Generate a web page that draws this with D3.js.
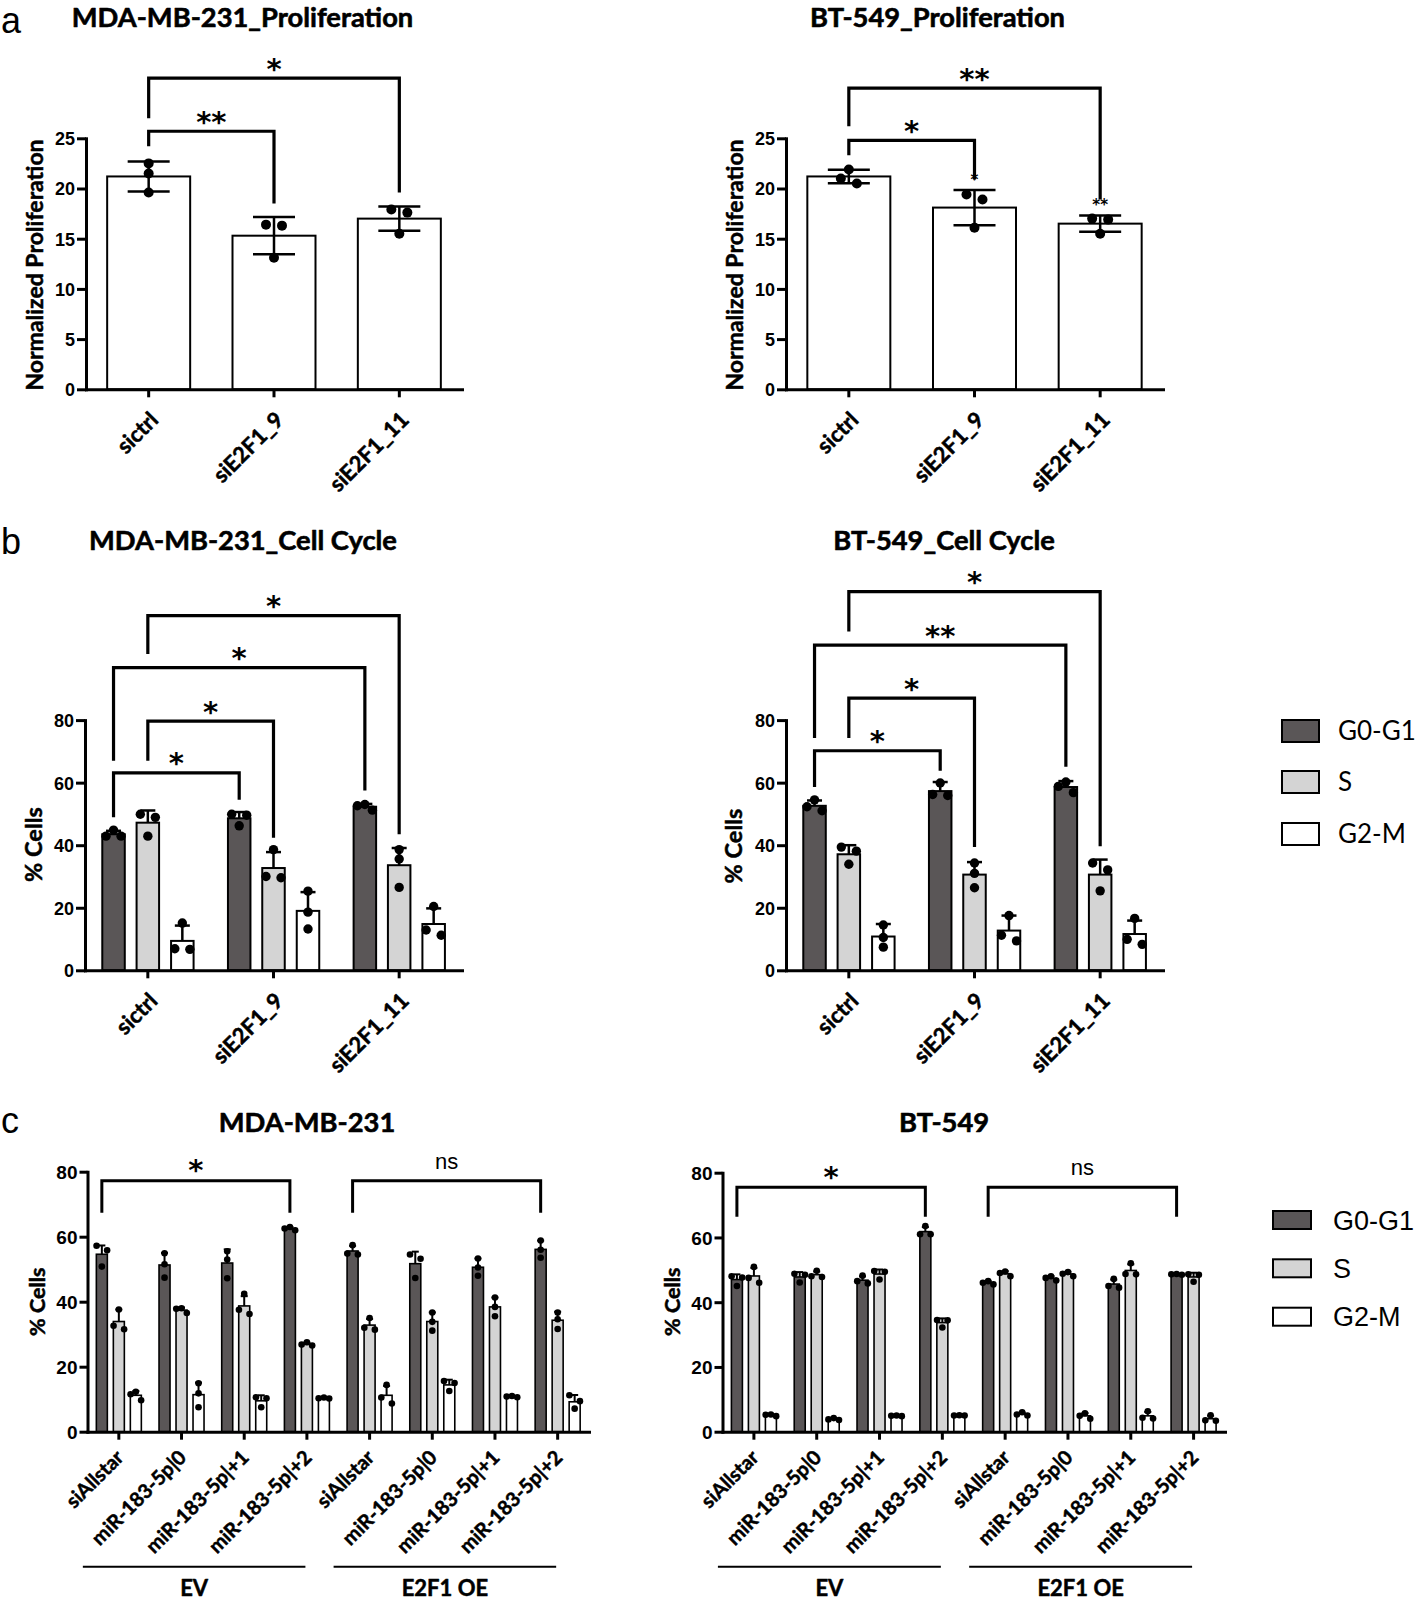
<!DOCTYPE html>
<html><head><meta charset="utf-8">
<script src="https://cdn.jsdelivr.net/npm/d3@7/dist/d3.min.js"></script>
<style>body{margin:0;background:#fff}svg{display:block}</style>
</head><body>
<svg id="fig" width="1424" height="1604"></svg>
<script>
// ================= DATA =================
const siCategories = ["sictrl", "siE2F1_9", "siE2F1_11"];
const phases = ["G0-G1", "S", "G2-M"];
const phaseColors = ["#5a5657", "#d4d4d4", "#ffffff"];

// a: proliferation
const mdaProlifMean = [21.2, 15.3, 17.0];
const mdaProlifSD = [1.5, 1.85, 1.2];
const mdaProlifPoints = [[22.5, 21.5, 19.6], [16.4, 16.3, 13.1], [17.9, 17.6, 15.5]];
const mdaProlifBrackets = [
  {from: "sictrl", to: "siE2F1_9", level: 25.7, fromEnd: 24.2, toEnd: 18.5, label: "**"},
  {from: "sictrl", to: "siE2F1_11", level: 31.0, fromEnd: 27.0, toEnd: 19.6, label: "*"}
];
const btProlifMean = [21.2, 18.1, 16.5];
const btProlifSD = [0.67, 1.75, 0.8];
const btProlifPoints = [[21.9, 21.0, 20.5], [19.4, 18.9, 16.1], [17.0, 16.9, 15.5]];
const btProlifMarks = ["", "*", "**"];
const btProlifBrackets = [
  {from: "sictrl", to: "siE2F1_9", level: 24.8, fromEnd: 23.3, toEnd: 20.9, label: "*"},
  {from: "sictrl", to: "siE2F1_11", level: 30.0, fromEnd: 26.2, toEnd: 18.9, label: "**"}
];

// b: cell cycle  [category][phase]
const mdaCycleMean = [[43.5, 47.2, 9.4], [48.6, 32.7, 19.0], [52.3, 33.6, 14.8]];
const mdaCycleSD = [[1.1, 3.9, 4.9], [2.0, 5.1, 6.0], [0.9, 5.5, 5.0]];
const mdaCyclePoints = [
  [[42.9, 44.8, 42.9], [49.9, 48.9, 42.9], [15.1, 6.7, 6.9]],
  [[49.9, 49.6, 46.2], [38.6, 29.6, 30.0], [25.3, 18.6, 13.2]],
  [[51.2, 53.0, 52.6], [38.6, 35.6, 26.5], [20.4, 11.2, 12.9]]
];
const mdaCycleBrackets = [
  {from: "sictrl", fromPhase: "G0-G1", to: "siE2F1_9", toPhase: "G0-G1", level: 63.1, fromEnd: 48.9, toEnd: 54.5, label: "*"},
  {from: "sictrl", fromPhase: "S", to: "siE2F1_9", toPhase: "S", level: 79.7, fromEnd: 67.0, toEnd: 42.4, label: "*"},
  {from: "sictrl", fromPhase: "G0-G1", to: "siE2F1_11", toPhase: "G0-G1", level: 96.8, fromEnd: 67.0, toEnd: 57.5, label: "*"},
  {from: "sictrl", fromPhase: "S", to: "siE2F1_11", toPhase: "S", level: 113.4, fromEnd: 101.1, toEnd: 43.5, label: "*"}
];
const btCycleMean = [[52.6, 37.1, 10.8], [57.3, 30.6, 12.7], [58.6, 30.6, 11.6]];
const btCycleSD = [[1.7, 2.9, 4.0], [2.9, 4.0, 4.8], [1.9, 4.8, 4.3]];
const btCyclePoints = [
  [[54.5, 51.0, 52.3], [39.4, 38.1, 33.9], [14.5, 10.5, 7.4]],
  [[59.9, 55.9, 56.2], [34.3, 31.0, 26.4], [17.5, 9.4, 11.2]],
  [[60.2, 56.8, 58.8], [34.3, 32.1, 25.4], [16.6, 8.3, 9.9]]
];
const btCycleBrackets = [
  {from: "sictrl", fromPhase: "G0-G1", to: "siE2F1_9", toPhase: "G0-G1", level: 70.2, fromEnd: 58.6, toEnd: 63.8, label: "*"},
  {from: "sictrl", fromPhase: "S", to: "siE2F1_9", toPhase: "S", level: 87.0, fromEnd: 74.3, toEnd: 39.4, label: "*"},
  {from: "sictrl", fromPhase: "G0-G1", to: "siE2F1_11", toPhase: "G0-G1", level: 104.0, fromEnd: 74.3, toEnd: 65.1, label: "**"},
  {from: "sictrl", fromPhase: "S", to: "siE2F1_11", toPhase: "S", level: 121.1, fromEnd: 108.3, toEnd: 39.7, label: "*"}
];

// c: rescue
const rescueGroups = ["EV", "E2F1 OE"];
const rescueCategories = ["siAllstar", "miR-183-5p|0", "miR-183-5p|+1", "miR-183-5p|+2"];
const rescueKeys = rescueGroups.flatMap(g => rescueCategories.map(c => g + "/" + c));
const mdaRescueMean = [[54.6, 33.9, 11.2], [51.3, 37.4, 11.4], [51.9, 38.7, 9.5], [62.5, 26.9, 10.3],
                       [55.6, 32.8, 11.2], [51.7, 33.9, 14.4], [50.6, 38.4, 10.8], [56.1, 34.3, 9.2]];
const mdaRescueSD = [[2.7, 3.7, 1.3], [3.7, 0.8, 3.7], [4.2, 3.0, 1.7], [0.5, 0.5, 0.2],
                     [1.6, 1.9, 2.9], [3.7, 2.8, 1.6], [2.7, 2.9, 0.2], [2.7, 2.6, 2.1]];
const mdaRescuePoints = [
  [[57.2, 55.8, 50.8], [37.6, 32.6, 31.5], [12.3, 11.5, 9.7]],
  [[54.9, 51.5, 47.4], [38.0, 37.8, 36.5], [14.9, 11.8, 7.5]],
  [[55.5, 53.0, 47.2], [42.4, 37.5, 36.2], [10.6, 10.3, 7.5]],
  [[63.0, 62.5, 62.0], [27.5, 26.8, 26.5], [10.5, 10.3, 10.2]],
  [[57.4, 54.8, 54.5], [35.0, 31.4, 32.0], [14.4, 8.7, 10.5]],
  [[54.5, 53.2, 47.3], [36.7, 33.8, 31.1], [15.6, 15.0, 12.5]],
  [[53.3, 50.5, 48.0], [41.3, 38.4, 35.5], [11.0, 10.8, 10.6]],
  [[58.8, 56.0, 53.5], [36.7, 34.6, 31.6], [11.2, 9.4, 7.1]]
];
const mdaRescueBrackets = [
  {from: "EV/siAllstar", fromPhase: "G0-G1", to: "EV/miR-183-5p|+2", toPhase: "G0-G1", level: 77.2, fromEnd: 67.4, toEnd: 67.4, label: "*"},
  {from: "E2F1 OE/siAllstar", fromPhase: "G0-G1", to: "E2F1 OE/miR-183-5p|+2", toPhase: "G0-G1", level: 77.2, fromEnd: 67.4, toEnd: 67.4, label: "ns"}
];
const btRescueMean = [[47.0, 48.1, 5.1], [47.8, 48.5, 3.9], [46.8, 48.7, 4.9], [61.8, 33.7, 5.0],
                      [46.0, 48.8, 5.4], [47.4, 48.7, 4.9], [45.6, 49.8, 4.9], [48.6, 47.8, 4.0]];
const btRescueSD = [[1.6, 2.5, 0.3], [1.5, 1.0, 0.3], [1.2, 1.4, 0.1], [1.4, 1.3, 0.1],
                    [0.5, 0.8, 0.5], [0.7, 0.7, 0.85], [1.4, 1.9, 1.2], [0.1, 1.3, 0.95]];
const btRescuePoints = [
  [[48.0, 47.6, 45.0], [50.9, 47.5, 46.0], [5.3, 5.2, 4.8]],
  [[48.8, 48.5, 46.1], [49.7, 48.0, 47.8], [4.2, 3.8, 3.6]],
  [[48.2, 45.8, 46.5], [49.6, 49.4, 47.0], [5.0, 4.9, 4.8]],
  [[63.5, 61.0, 61.0], [34.5, 34.4, 32.2], [5.1, 5.0, 5.0]],
  [[46.5, 45.5, 46.0], [49.5, 49.0, 48.0], [6.0, 5.3, 5.0]],
  [[48.0, 47.5, 46.7], [49.3, 48.8, 48.0], [5.7, 4.9, 4.0]],
  [[47.2, 45.0, 44.5], [52.0, 48.6, 48.7], [6.3, 4.3, 4.1]],
  [[48.7, 48.5, 48.6], [48.6, 48.5, 46.3], [5.1, 3.4, 3.5]]
];
const btRescueBrackets = [
  {from: "EV/siAllstar", fromPhase: "G0-G1", to: "EV/miR-183-5p|+2", toPhase: "G0-G1", level: 75.5, fromEnd: 66.4, toEnd: 66.4, label: "*"},
  {from: "E2F1 OE/siAllstar", fromPhase: "G0-G1", to: "E2F1 OE/miR-183-5p|+2", toPhase: "G0-G1", level: 75.5, fromEnd: 66.4, toEnd: 66.4, label: "ns"}
];

// ================= DRAWING =================
const FONT_C = "Lato, 'Noto Sans', sans-serif";
const FONT_A = "'Liberation Sans', Arial, sans-serif";
const FONT_STAR = "'DejaVu Sans', sans-serif";
const svg = d3.select("#fig");

function heavy(sel, w) {
  return sel.attr("stroke", "#000").attr("stroke-width", w).attr("paint-order", "stroke").attr("stroke-linejoin", "round");
}

function txt(g, x, y, s, o = {}) {
  const t = g.append("text").attr("x", x).attr("y", y).text(s)
    .attr("font-family", o.family || FONT_C).attr("font-size", o.size || 20)
    .attr("font-weight", o.weight || "normal").attr("text-anchor", o.anchor || "start")
    .attr("fill", "#000");
  if (o.heavy) heavy(t, o.heavy);
  return t;
}

function swarm(vals, y, r) {
  const pts = vals.map(v => ({v, py: y(v)})).sort((a, b) => a.py - b.py);
  const rows = [];
  pts.forEach(p => {
    const row = rows[rows.length - 1];
    if (row && p.py - row[row.length - 1].py < 1.8 * r) row.push(p); else rows.push([p]);
  });
  const d = 1.6 * r;
  rows.forEach(row => {
    const offs = row.length === 1 ? [0] : row.length === 2 ? [-d, d] : [0, -d, d, -2 * d, 2 * d];
    row.forEach((p, i) => p.dx = offs[i]);
  });
  return pts;
}

function panel(o) {
  const g = svg.append("g");
  const y = d3.scaleLinear().domain([0, o.yMax]).range([o.y0, o.yTop]);
  const x = d3.scaleBand().domain(o.keys).range(o.xRange);
  const cx = k => x(k) + x.bandwidth() / 2;
  const sIdx = p => p ? phases.indexOf(p) : 0;
  const sx = (k, s) => cx(k) + o.offsets[s];

  // bars
  o.keys.forEach((k, i) => o.means[i].forEach((m, s) => {
    g.append("rect").attr("x", sx(k, s) - o.barW / 2).attr("y", y(m))
      .attr("width", o.barW).attr("height", y(0) - y(m))
      .attr("fill", o.colors[s]).attr("stroke", "#000").attr("stroke-width", o.barStroke);
  }));
  // error bars
  o.keys.forEach((k, i) => o.means[i].forEach((m, s) => {
    const sd = o.sds[i][s], xx = sx(k, s);
    const top = y(m + sd), bot = o.errBoth ? y(m - sd) : y(m);
    const st = l => l.attr("stroke", "#000").attr("stroke-width", o.errW);
    st(g.append("line").attr("x1", xx).attr("x2", xx).attr("y1", top).attr("y2", bot));
    st(g.append("line").attr("x1", xx - o.capHalf).attr("x2", xx + o.capHalf).attr("y1", top).attr("y2", top));
    if (o.errBoth) st(g.append("line").attr("x1", xx - o.capHalf).attr("x2", xx + o.capHalf).attr("y1", bot).attr("y2", bot));
  }));
  // dots
  o.keys.forEach((k, i) => o.points[i].forEach((vals, s) => {
    swarm(vals, y, o.dotR).forEach(p => {
      g.append("circle").attr("cx", sx(k, s) + p.dx).attr("cy", p.py).attr("r", o.dotR).attr("fill", "#000");
    });
  }));
  // axes
  const ya = g.append("g").attr("transform", `translate(${o.xRange[0]},0)`)
    .call(d3.axisLeft(y).tickValues(o.yTicks).tickSize(o.yTickLen).tickSizeOuter(0).tickPadding(2));
  ya.select(".domain").attr("stroke-width", o.axisW).attr("stroke-linecap", "square");
  ya.selectAll(".tick line").attr("stroke-width", o.axisW);
  ya.selectAll(".tick text").attr("font-family", FONT_A).attr("font-weight", "bold")
    .attr("font-size", o.yTickFont).attr("dy", "0.36em");

  const xa = g.append("g").attr("transform", `translate(0,${o.y0})`)
    .call(d3.axisBottom(x).tickSize(o.xTickLen).tickSizeOuter(0).tickFormat(o.labelOf));
  xa.select(".domain").attr("stroke-width", o.axisW).attr("stroke-linecap", "square");
  xa.selectAll(".tick line").attr("stroke-width", o.axisW);
  heavy(xa.selectAll(".tick text").attr("font-family", FONT_C).attr("font-weight", "bold")
    .attr("font-size", o.xFont).attr("text-anchor", "end").attr("y", 0).attr("dy", 0)
    .attr("transform", `translate(${o.xLabDx},${o.xLabDy}) rotate(-45)`), 0.5);

  // brackets
  (o.brackets || []).forEach(b => {
    const x1 = sx(b.from, sIdx(b.fromPhase)), x2 = sx(b.to, sIdx(b.toPhase));
    const ly = y(b.level);
    g.append("path").attr("d", `M${x1},${y(b.fromEnd)}V${ly}H${x2}V${y(b.toEnd)}`)
      .attr("fill", "none").attr("stroke", "#000").attr("stroke-width", o.brW);
    const mx = (x1 + x2) / 2;
    if (b.label === "ns") {
      txt(g, mx, ly - o.nsGap, b.label, {family: FONT_A, size: o.nsFont, anchor: "middle"});
    } else {
      txt(g, mx, ly - o.starGap + 0.57 * o.starFont, b.label, {family: FONT_STAR, size: o.starFont, weight: "bold", anchor: "middle"});
    }
  });
  // small marks above bars
  if (o.marks) o.keys.forEach((k, i) => {
    if (!o.marks[i]) return;
    const top = y(o.means[i][0] + o.sds[i][0]);
    txt(g, cx(k), top - 14 + 0.57 * 15, o.marks[i], {family: FONT_STAR, size: 15, weight: "bold", anchor: "middle"});
  });
  return {g, x, y, cx};
}

// common styles
const styleA = {yMax: 25, y0: 389.3, yTop: 138.3, yTicks: [0, 5, 10, 15, 20, 25], offsets: [0], barW: 83,
  colors: ["#ffffff"], errBoth: true, capHalf: 21, dotR: 5, barStroke: 2, errW: 2.5, axisW: 3,
  yTickLen: 9, xTickLen: 8, yTickFont: 18, xFont: 22, xLabDx: 11, xLabDy: 32, brW: 3.2,
  starFont: 29, starGap: 16, labelOf: d => d};
const styleB = {yMax: 80, y0: 970.3, yTop: 720.1, yTicks: [0, 20, 40, 60, 80], offsets: [-34.3, 0, 34.5], barW: 22.5,
  colors: phaseColors, errBoth: false, capHalf: 7.5, dotR: 4.7, barStroke: 2, errW: 2.5, axisW: 3,
  yTickLen: 9, xTickLen: 8, yTickFont: 18, xFont: 22, xLabDx: 11, xLabDy: 32, brW: 3.2,
  starFont: 29, starGap: 16, labelOf: d => d};
const styleC = {yMax: 80, y0: 1431.7, yTicks: [0, 20, 40, 60, 80], offsets: [-17, 0, 17], barW: 11,
  colors: phaseColors, errBoth: false, capHalf: 3.5, dotR: 3.3, barStroke: 1.6, errW: 2, axisW: 3,
  yTickLen: 8, xTickLen: 8, yTickFont: 19, xFont: 20, xLabDx: 6, xLabDy: 27, brW: 3,
  starFont: 29, starGap: 17, nsFont: 22, nsGap: 12, labelOf: d => d.split("/")[1]};

// ---- panel a ----
panel({...styleA, keys: siCategories, xRange: [86, 462],
  means: mdaProlifMean.map(v => [v]), sds: mdaProlifSD.map(v => [v]), points: mdaProlifPoints.map(p => [p]),
  brackets: mdaProlifBrackets});
panel({...styleA, keys: siCategories, xRange: [786, 1163],
  means: btProlifMean.map(v => [v]), sds: btProlifSD.map(v => [v]), points: btProlifPoints.map(p => [p]),
  brackets: btProlifBrackets, marks: btProlifMarks});

// ---- panel b ----
panel({...styleB, keys: siCategories, xRange: [85, 462],
  means: mdaCycleMean, sds: mdaCycleSD, points: mdaCyclePoints, brackets: mdaCycleBrackets});
panel({...styleB, keys: siCategories, xRange: [786, 1163],
  means: btCycleMean, sds: btCycleSD, points: btCyclePoints, brackets: btCycleBrackets});

// ---- panel c ----
const cL = panel({...styleC, yTop: 1171.7, keys: rescueKeys, xRange: [87.5, 589],
  means: mdaRescueMean, sds: mdaRescueSD, points: mdaRescuePoints, brackets: mdaRescueBrackets});
const cR = panel({...styleC, yTop: 1172.7, keys: rescueKeys, xRange: [722.5, 1225],
  means: btRescueMean, sds: btRescueSD, points: btRescuePoints, brackets: btRescueBrackets});

// group underlines and labels in c
const ann = svg.append("g");
[cL, cR].forEach(p => {
  rescueGroups.forEach(gr => {
    const ks = rescueKeys.filter(k => k.startsWith(gr + "/"));
    const x1 = p.cx(ks[0]) - 36, x2 = p.cx(ks[ks.length - 1]) - 1.5;
    ann.append("line").attr("x1", x1).attr("x2", x2).attr("y1", 1566.7).attr("y2", 1566.7)
      .attr("stroke", "#000").attr("stroke-width", 2);
    txt(ann, (x1 + x2) / 2, 1596, gr, {size: 22, weight: "bold", anchor: "middle", heavy: 0.5});
  });
});

// titles
[["MDA-MB-231_Proliferation", 242.5, 27], ["BT-549_Proliferation", 937.5, 27],
 ["MDA-MB-231_Cell Cycle", 243, 550.4], ["BT-549_Cell Cycle", 944, 550.4],
 ["MDA-MB-231", 307, 1131.7], ["BT-549", 944, 1131.7]].forEach(([s, x, y]) =>
  txt(ann, x, y, s, {size: 27.3, weight: "bold", anchor: "middle", heavy: 0.6}));

// panel letters
[["a", 33], ["b", 554], ["c", 1133]].forEach(([s, y]) => txt(ann, 1, y, s, {size: 36, family: FONT_A}));

// y-axis titles
[["Normalized Proliferation", 34.5, 265, 23], ["Normalized Proliferation", 734.5, 265, 23],
 ["% Cells", 33.5, 844.5, 23.5], ["% Cells", 734, 846, 23.5],
 ["% Cells", 37, 1301.7, 21.5], ["% Cells", 672.5, 1301.7, 21.5]].forEach(([s, x, y, f]) =>
  txt(ann, 0, 0, s, {size: f, weight: "bold", anchor: "middle", heavy: 0.5})
    .attr("dy", "0.36em").attr("transform", `translate(${x},${y}) rotate(-90)`));

// legends
function legend(x0, w, h, ys, tx, font, fsize) {
  phases.forEach((ph, i) => {
    ann.append("rect").attr("x", x0).attr("y", ys[i]).attr("width", w).attr("height", h)
      .attr("fill", phaseColors[i]).attr("stroke", "#000").attr("stroke-width", 2);
    txt(ann, tx, ys[i] + h / 2 + 0.36 * fsize, ph, {family: font, size: fsize});
  });
}
legend(1282, 37, 22, [720, 771, 823], 1338, FONT_C, 26);
legend(1273, 38, 18, [1211, 1259.3, 1307.7], 1333, FONT_A, 27);
</script>
</body></html>
